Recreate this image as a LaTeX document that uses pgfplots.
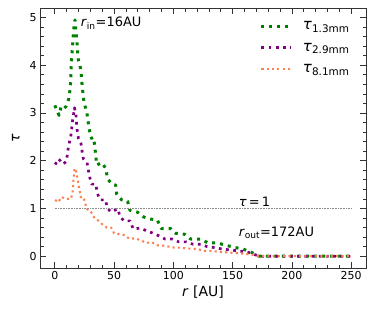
\documentclass[border=0pt]{standalone}
\usepackage{fontspec}
\setmainfont{DejaVu Sans}
\usepackage{pgfplots}
\pgfplotsset{compat=1.18}
\definecolor{cgreen}{HTML}{008000}
\definecolor{cpurple}{HTML}{800080}
\definecolor{ccoral}{HTML}{FF7F50}
\begin{document}
\begin{tikzpicture}
\begin{axis}[
  scale only axis, width=326bp, height=260bp,
  xmin=-12.5, xmax=262.5, ymin=-0.2475, ymax=5.2,
  xtick={0,50,100,150,200,250}, ytick={0,1,2,3,4,5},
  minor x tick num=4, minor y tick num=4,
  tick align=inside, tick pos=both,
  major tick length=6bp, minor tick length=3.5bp,
  every tick/.style={line width=0.8pt, black!80},
  axis line style={line width=1pt, black!80},
  /pgf/number format/assume math mode=true,
  tick label style={font=\fontsize{11}{13}\selectfont},
  xlabel={\textit{r} [AU]}, ylabel={\textit{τ}},
  label style={font=\fontsize{14}{16}\selectfont},
  xlabel style={yshift=1bp},
  ylabel style={yshift=3bp},
  legend style={draw=none, fill=none, at={(0.665,0.965)}, anchor=north west,
    font=\fontsize{15}{17}\selectfont, row sep=8bp,
    /tikz/every odd column/.append style={column sep=8bp}},
  legend cell align=left,
  legend image code/.code={\draw[#1] (0bp,0bp) -- (30bp,0bp);},
  every axis plot/.append style={line join=round},
  clip=true,
]
\addplot[cgreen, line width=3bp, dash pattern=on 3bp off 5bp] coordinates {
(0,3.16) (0.3,3.14) (3.6,2.95) (5.3,3.13) (7.6,3.09) (9.5,3.14) (11.8,3.3) (12.9,3.5)
(13.5,3.69) (13.7,3.89) (14,4.09) (14.6,4.29) (15.2,4.48) (15.7,4.68) (16.6,4.9) (17,4.95)
(17.7,4.74) (18.5,4.54) (19.1,4.34) (19.6,4.14) (21.3,3.99) (22.4,3.79) (23,3.59)
(23.8,3.40) (24.7,3.21) (26.9,3.03) (28,2.83) (29.2,2.64) (30.9,2.47) (32.6,2.49)
(33.7,2.31) (34.5,2.1) (35.4,1.91) (39.6,1.96) (43.2,1.83) (44.3,1.63) (48,1.51)
(51.3,1.49) (52.2,1.3) (56.4,1.18) (61.4,1.15) (63.4,0.96) (69.9,0.92) (74.1,0.83)
(80,0.78) (86.4,0.76) (89.8,0.58) (97.6,0.58) (101.9,0.48) (109.4,0.46) (114.5,0.36)
(122.9,0.36) (129,0.28) (137,0.28) (144,0.23) (152.4,0.18) (158.8,0.15) (165.5,0.085)
(172,0) (250,0)
};
\addlegendentry{\textit{τ}\textsubscript{1.3mm}}
\addplot[cpurple, line width=2.7bp, dash pattern=on 2.7bp off 4.5bp] coordinates {
(0.3,1.92) (3.1,2.04) (7,1.93) (9.5,1.98) (10.7,2.14) (11.5,2.31) (13.2,2.47) (14,2.61)
(14.6,2.78) (15.7,2.95) (16.6,3.11) (17.9,2.95) (18.5,2.7) (19.9,2.47) (22,2.37) (23,2.2)
(24.1,2.04) (27.2,1.96) (28.3,1.8) (29.7,1.63) (31.1,1.51) (34.5,1.51) (35.9,1.32)
(38.1,1.18) (42.7,1.18) (44.3,1.01) (47.2,0.93) (53.2,0.99) (55,0.83) (58.4,0.74)
(63.4,0.74) (66.2,0.57) (72.4,0.59) (77.4,0.53) (83,0.48) (88.4,0.42) (92.9,0.36)
(99,0.36) (104.6,0.30) (110.8,0.30) (116.7,0.25) (123.5,0.25) (128.5,0.20) (134.9,0.18)
(141,0.15) (148,0.13) (155,0.11) (162,0.09) (167,0.05) (172,0) (250,0)
};
\addlegendentry{\textit{τ}\textsubscript{2.9mm}}
\addplot[ccoral, line width=2.1bp, dash pattern=on 2.1bp off 3.2bp] coordinates {
(0.3,1.18) (2.8,1.13) (5.6,1.24) (9.5,1.2) (13.5,1.2) (14.9,1.32) (15.4,1.45) (15.7,1.59)
(16.3,1.72) (16.6,1.84) (18.3,1.76) (19.1,1.64) (19.9,1.5) (21,1.37) (21.6,1.24)
(24.1,1.24) (25.5,1.13) (26.7,0.99) (30,0.95) (33.7,0.79) (37,0.74) (40.4,0.66)
(43.8,0.6) (47.5,0.6) (50,0.48) (55,0.46) (59,0.44) (62.6,0.37) (67.3,0.37) (72.4,0.34)
(76.6,0.28) (81.9,0.29) (86.4,0.23) (91.5,0.22) (96.2,0.2) (100.7,0.18) (106,0.18)
(111.4,0.16) (116.4,0.16) (121.5,0.14) (126.5,0.11) (131.8,0.11) (140,0.09) (150,0.07)
(160,0.05) (167,0.03) (172,0) (250,0)
};
\addlegendentry{\textit{τ}\textsubscript{8.1mm}}
\addplot[black!45, line width=0.6bp, dash pattern=on 0.6bp off 1bp, forget plot] coordinates {(0,1) (250,1)};
\node[anchor=base west, inner sep=0pt, font=\fontsize{13}{15}\selectfont] at (axis cs:21.9,4.81) {\textit{r}\textsubscript{in}=16AU};
\node[anchor=base west, inner sep=0pt, font=\fontsize{13}{15}\selectfont] at (axis cs:155,1.04) {\textit{τ}\,=\,1};
\node[anchor=base west, inner sep=0pt, font=\fontsize{13}{15}\selectfont] at (axis cs:155,0.41) {\textit{r}\textsubscript{out}=172AU};
\end{axis}
\pgfresetboundingbox
\path[use as bounding box] ([shift={(-40bp,-44bp)}]current axis.south west) rectangle ([shift={(8bp,8bp)}]current axis.north east);
\end{tikzpicture}
\end{document}
